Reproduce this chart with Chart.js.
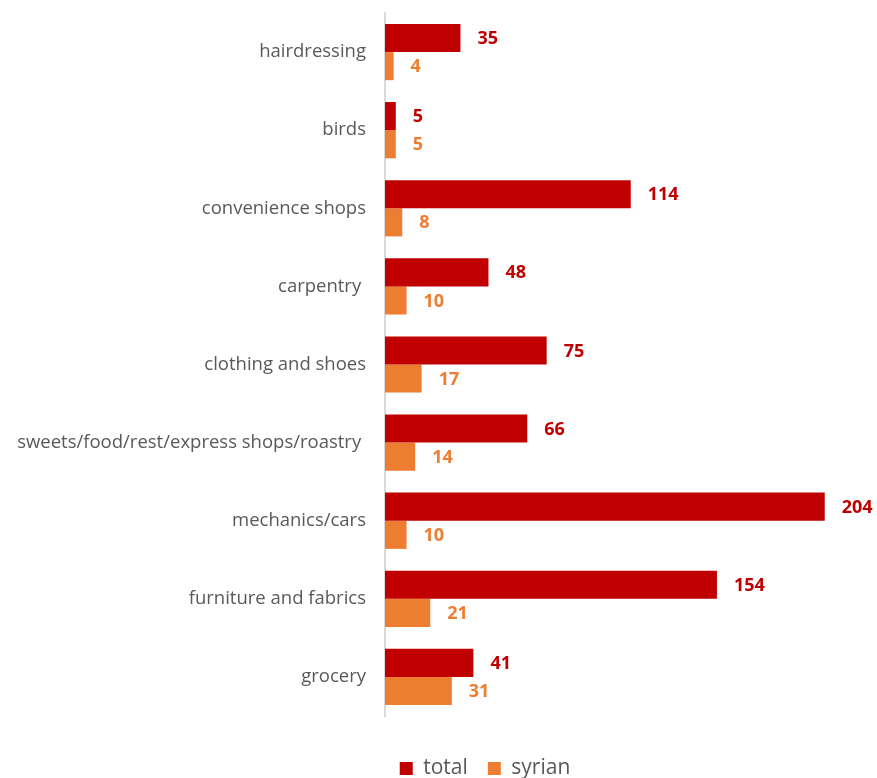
<!DOCTYPE html>
<html>
<head>
<meta charset="utf-8">
<script src="https://cdn.jsdelivr.net/npm/chart.js@4"></script>
<style>
  html, body { margin: 0; padding: 0; background: #fff; }
  #wrap { width: 877px; height: 778px; }
</style>
</head>
<body>
<div id="wrap"><canvas id="chart"></canvas></div>
<script>
const categories = [
  "hairdressing",
  "birds",
  "convenience shops",
  "carpentry ",
  "clothing and shoes",
  "sweets/food/rest/express shops/roastry ",
  "mechanics/cars",
  "furniture and fabrics",
  "grocery"
];
const totalValues = [35, 5, 114, 48, 75, 66, 204, 154, 41];
const syrianValues = [4, 5, 8, 10, 17, 14, 10, 21, 31];

const RED = "#C00000";
const ORANGE = "#ED7D31";
const FONT = "'Open Sans', sans-serif";

// value labels drawn to the right of each bar
const barValueLabels = {
  id: "barValueLabels",
  afterDatasetsDraw(chart) {
    const ctx = chart.ctx;
    ctx.save();
    ctx.font = "bold 18px " + FONT;
    ctx.textAlign = "left";
    ctx.textBaseline = "middle";
    chart.data.datasets.forEach((ds, i) => {
      const meta = chart.getDatasetMeta(i);
      meta.data.forEach((bar, j) => {
        ctx.fillStyle = ds.backgroundColor;
        ctx.fillText(String(ds.data[j]), bar.x + 17, bar.y + 1);
      });
    });
    ctx.restore();
  }
};

// legend sits a bit right of the canvas centre and low near the bottom edge
const legendShift = {
  id: "legendShift",
  afterLayout(chart) {
    const lg = chart.legend;
    lg.left = 98;
    lg.right = 872;
    lg.top = 738;
    lg.bottom = 778;
  }
};

new Chart(document.getElementById("chart"), {
  type: "bar",
  data: {
    labels: categories,
    datasets: [
      { label: "total", data: totalValues, backgroundColor: RED },
      { label: "syrian", data: syrianValues, backgroundColor: ORANGE }
    ]
  },
  options: {
    indexAxis: "y",
    responsive: true,
    maintainAspectRatio: false,
    animation: false,
    categoryPercentage: 0.72,
    barPercentage: 1.0,
    layout: { padding: { top: 13, right: 7, left: 0, bottom: 0 } },
    scales: {
      x: {
        min: 0,
        max: 225,
        grid: { display: false },
        border: { display: false },
        ticks: { display: false },
        afterFit(scale) { scale.height = 11; }
      },
      y: {
        grid: { display: false, drawTicks: false },
        border: { display: true, color: "#D9D9D9", width: 2 },
        ticks: {
          color: "#595959",
          padding: 19,
          font: { family: FONT, size: 18.5 }
        },
        afterFit(scale) {
          scale.width = 385;
          scale.paddingTop = 0;
          scale.paddingBottom = 0;
        }
      }
    },
    plugins: {
      legend: {
        position: "bottom",
        labels: {
          color: "#595959",
          boxWidth: 13,
          boxHeight: 13,
          padding: 20,
          font: { family: FONT, size: 21 }
        }
      },
      tooltip: { enabled: false }
    }
  },
  plugins: [barValueLabels, legendShift]
});
</script>
</body>
</html>
